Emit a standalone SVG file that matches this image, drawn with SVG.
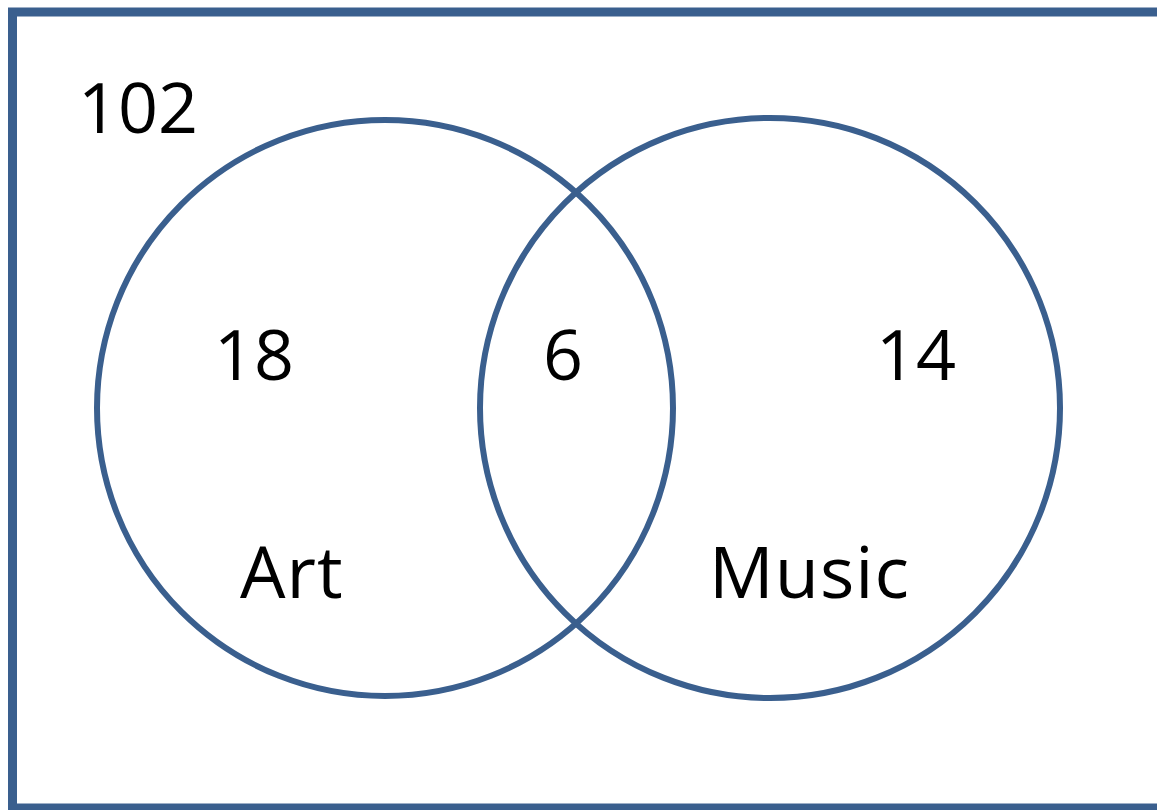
<svg xmlns="http://www.w3.org/2000/svg" width="1157" height="810" viewBox="0 0 1157 810">
<style>
.c{fill:none;stroke:#3A5F8E;stroke-width:6}
.t{font-family:"Open Sans","Liberation Sans",sans-serif;font-size:70px;fill:#000}
.l{font-size:72px;letter-spacing:1px}
</style>
<rect x="0" y="0" width="1157" height="810" fill="#fff"/>
<g id="universe"><rect x="12.5" y="12" width="1160" height="796" fill="none" stroke="#3A5F8E" stroke-width="9"/><text class="t" x="78" y="133">102</text></g>
<g id="art"><circle class="c" cx="385" cy="408" r="288"/><text class="t" x="214" y="380">18</text><text class="t l" x="240" y="598">Art</text></g>
<g id="music"><circle class="c" cx="770" cy="408" r="290"/><text class="t" x="876" y="380">14</text><text class="t l" x="709" y="598">Music</text></g>
<g id="both"><text class="t" x="543" y="380">6</text></g>
<g id="connectors"/>
</svg>
